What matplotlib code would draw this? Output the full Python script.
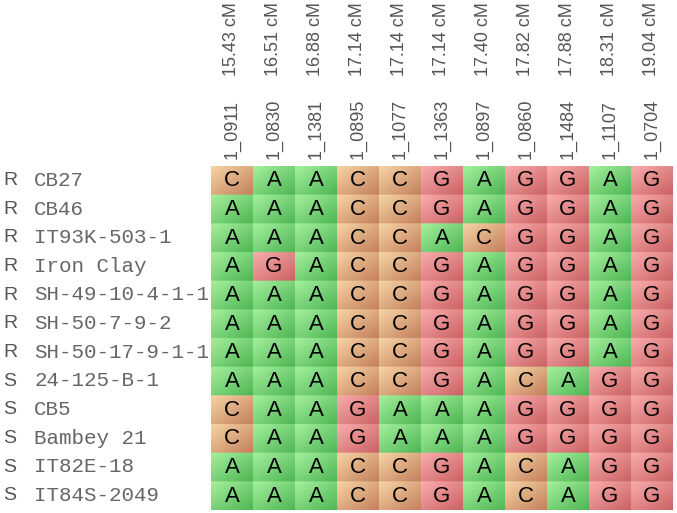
import numpy as np
import matplotlib.pyplot as plt
from matplotlib.transforms import blended_transform_factory

marcadores = ['1_0911', '1_0830', '1_1381', '1_0895', '1_1077', '1_1363',
              '1_0897', '1_0860', '1_1484', '1_1107', '1_0704']
posiciones = ['15.43 cM', '16.51 cM', '16.88 cM', '17.14 cM', '17.14 cM', '17.14 cM',
              '17.40 cM', '17.82 cM', '17.88 cM', '18.31 cM', '19.04 cM']
fenotipo = ['R', 'R', 'R', 'R', 'R', 'R', 'R', 'S', 'S', 'S', 'S', 'S']
lineas = ['CB27', 'CB46', 'IT93K-503-1', 'Iron Clay', 'SH-49-10-4-1-1',
          'SH-50-7-9-2', 'SH-50-17-9-1-1', '24-125-B-1', 'CB5', 'Bambey 21',
          'IT82E-18', 'IT84S-2049']
genotipos = ['CAACCGAGGAG',
             'AAACCGAGGAG',
             'AAACCACGGAG',
             'AGACCGAGGAG',
             'AAACCGAGGAG',
             'AAACCGAGGAG',
             'AAACCGAGGAG',
             'AAACCGACAGG',
             'CAAGAAAGGGG',
             'CAAGAAAGGGG',
             'AAACCGACAGG',
             'AAACCGACAGG']

# colores claro (arriba-izq) y oscuro (abajo-der) de cada base
claro = {'A': (165, 240, 158), 'C': (246, 212, 165), 'G': (250, 172, 172)}
oscuro = {'A': (78, 182, 84), 'C': (196, 128, 92), 'G': (202, 98, 100)}

n_filas = len(lineas)
n_cols = len(marcadores)
res = 40
u = np.linspace(0, 1, res)
t = (u[None, :] + u[:, None]) / 2.0

img = np.zeros((n_filas * res, n_cols * res, 3))
for i, fila in enumerate(genotipos):
    for j, base in enumerate(fila):
        c1 = np.array(claro[base]) / 255.0
        c2 = np.array(oscuro[base]) / 255.0
        celda = c1[None, None, :] * (1 - t[..., None]) + c2[None, None, :] * t[..., None]
        img[i*res:(i+1)*res, j*res:(j+1)*res] = celda

fig = plt.figure(figsize=(6.77, 5.13), dpi=100)
ax = fig.add_axes([211/677, 3/513, 462/677, 344/513])
ax.imshow(img, extent=(0, n_cols, n_filas, 0), aspect='auto', interpolation='bilinear')
ax.set_xlim(0, n_cols)
ax.set_ylim(n_filas, 0)

for i, fila in enumerate(genotipos):
    for j, base in enumerate(fila):
        ax.text(j + 0.5, i + 0.52, base, ha='center', va='center',
                fontsize=16, color='black', family='Liberation Sans')

ax.xaxis.tick_top()
ax.set_xticks(np.arange(n_cols) + 0.5)
ax.set_xticklabels(marcadores, rotation=90, fontsize=13, color='#555555',
                   family='Liberation Sans')
ax.tick_params(axis='x', length=0, pad=5)
ax.set_yticks([])
for s in ax.spines.values():
    s.set_visible(False)

trans_x = blended_transform_factory(ax.transData, fig.transFigure)
for j, pos in enumerate(posiciones):
    ax.text(j + 0.5, 1 - 76/513, pos, rotation=90, ha='center', va='bottom',
            fontsize=13, color='#555555', family='Liberation Sans', transform=trans_x)

trans_y = blended_transform_factory(fig.transFigure, ax.transData)
for i in range(n_filas):
    ax.text(3/677, i + 0.5, fenotipo[i], ha='left', va='center', fontsize=14,
            color='#555555', family='Liberation Sans', transform=trans_y)
    ax.text(34/677, i + 0.5, lineas[i], ha='left', va='center', fontsize=15,
            color='#666666', family='Liberation Mono', transform=trans_y)

fig.savefig('out.png', dpi=100)
